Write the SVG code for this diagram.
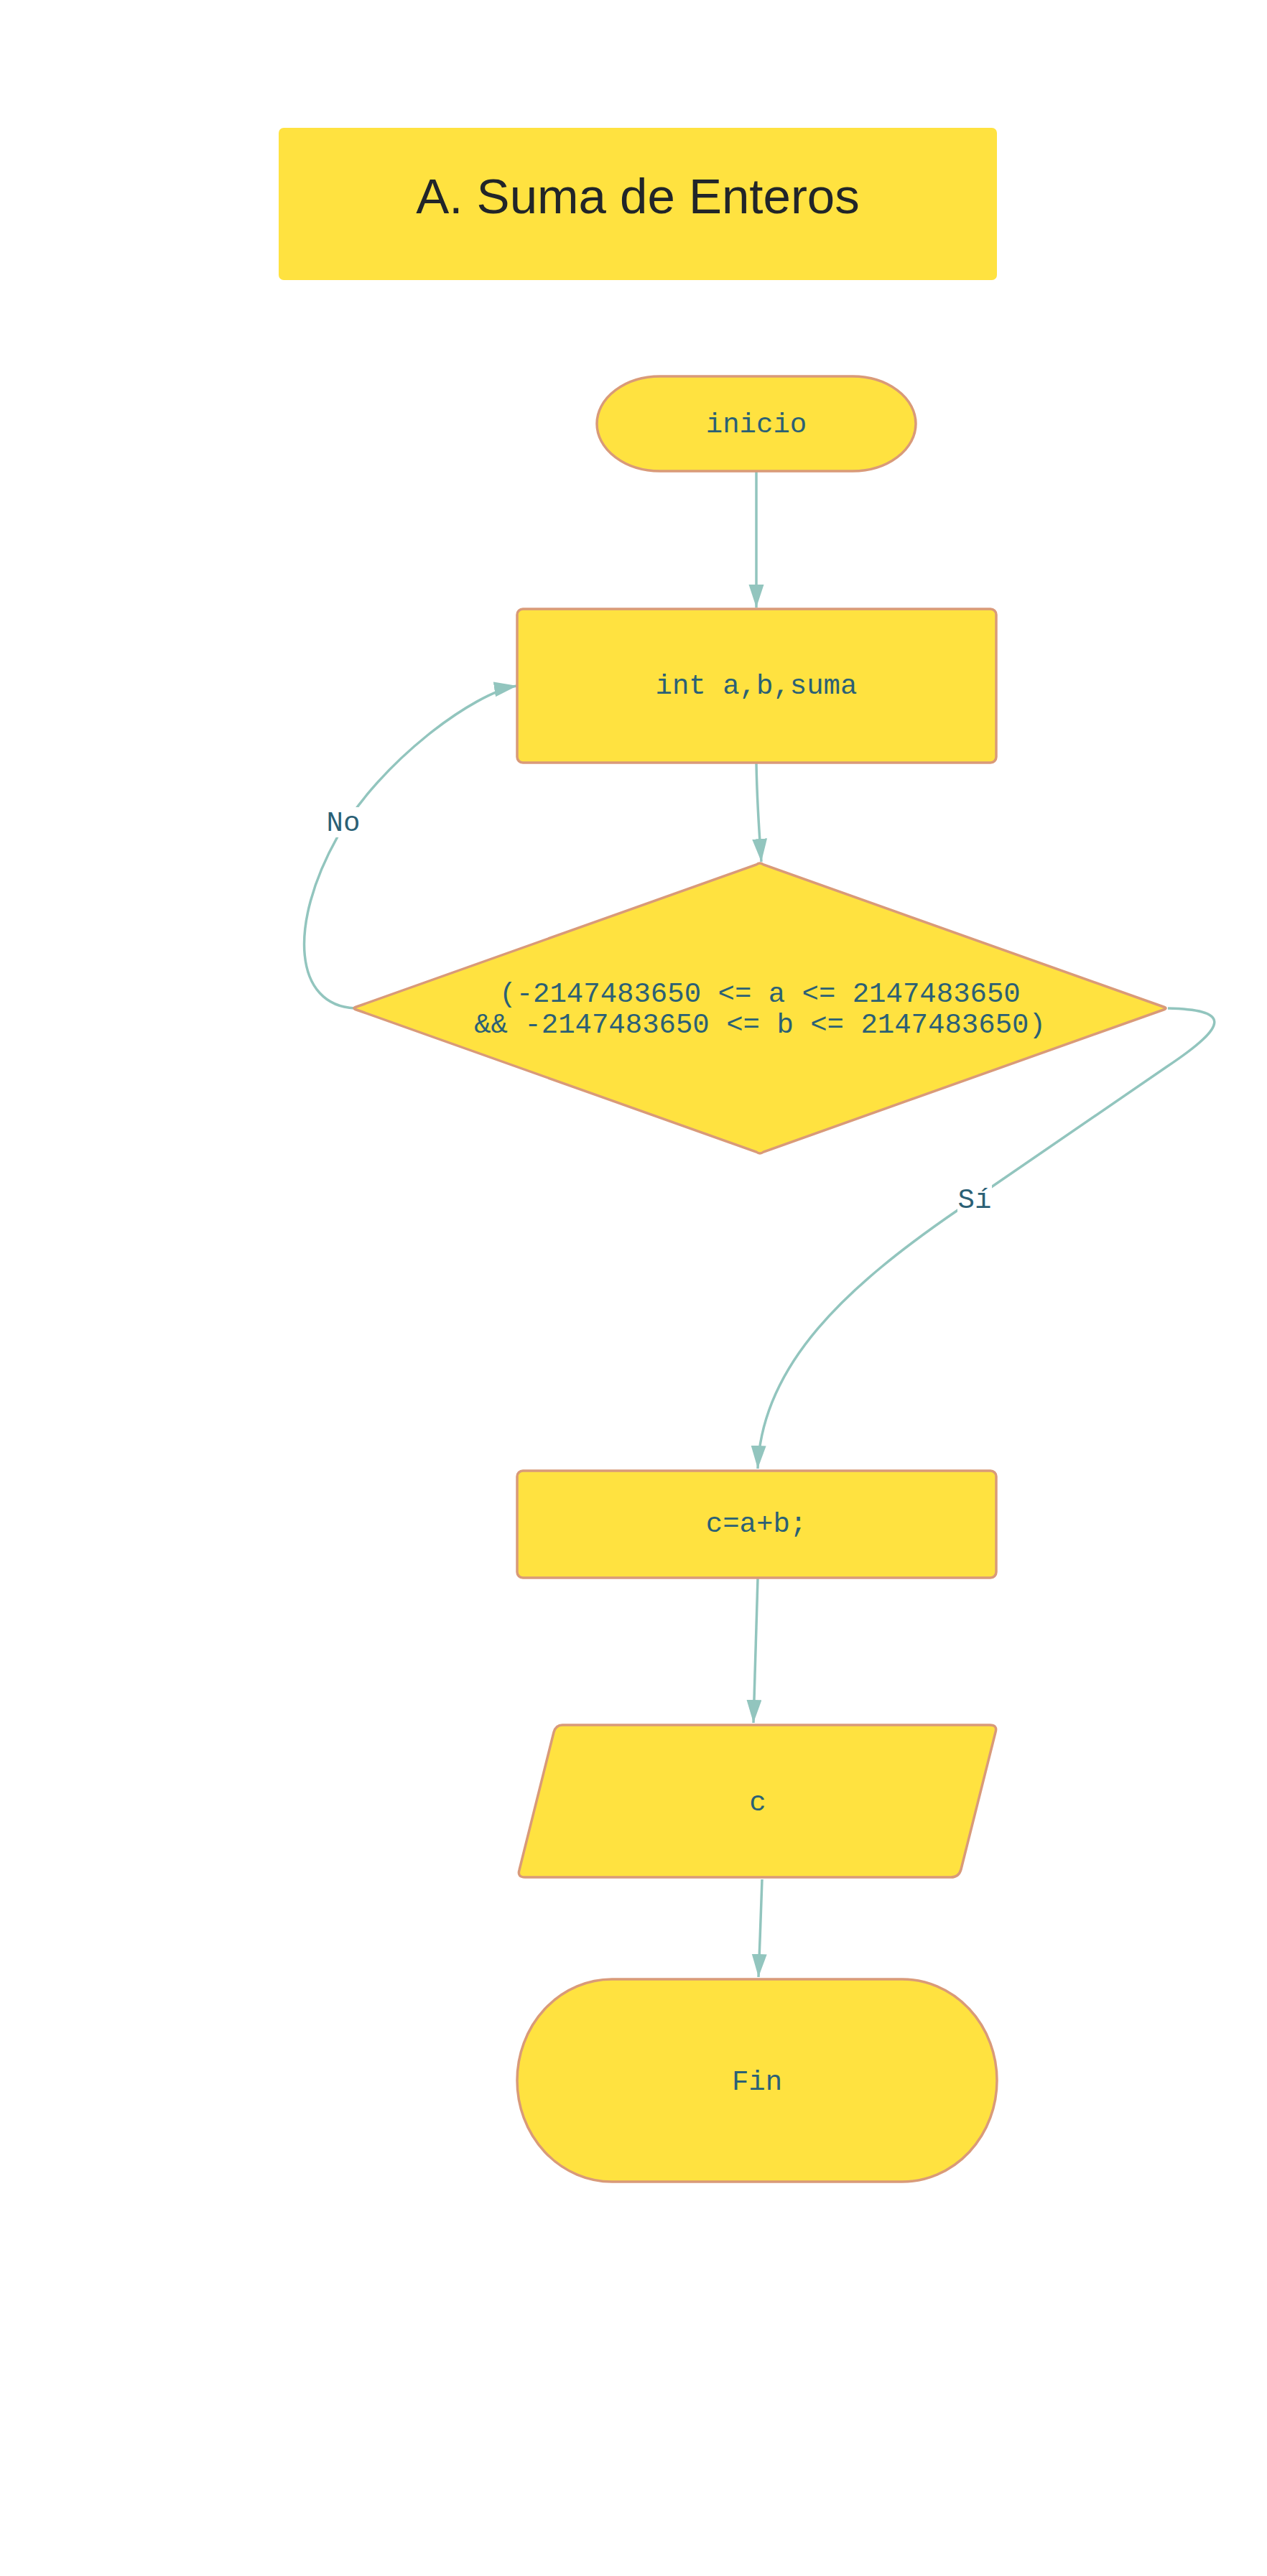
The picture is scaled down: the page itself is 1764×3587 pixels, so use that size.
<svg xmlns="http://www.w3.org/2000/svg" width="1764" height="3587" viewBox="0 0 1764 3587">
<style>
.node{fill:#FFE240;stroke:#D99A79;stroke-width:3.5}
.t{font-family:"Liberation Mono","DejaVu Sans Mono",monospace;font-size:39px;fill:#2B6075;text-anchor:middle}
.edge{fill:none;stroke:#92C5BE;stroke-width:3.5}
.lbg{fill:#FFFFFF}
</style>
<defs>
<marker id="arr" markerUnits="userSpaceOnUse" markerWidth="34" markerHeight="22" refX="32" refY="10.5" orient="auto">
<path d="M0,0 L32,10.5 L0,21 z" fill="#92C5BE"/>
</marker>
</defs>
<rect width="1764" height="3587" fill="#FFFFFF"/>
<g id="title">
<rect x="388" y="178" width="1000" height="212" rx="7" fill="#FFE240"/>
<text x="888" y="297" font-family="'Liberation Sans',Arial,sans-serif" font-size="69" fill="#212529" text-anchor="middle">A. Suma de Enteros</text>
</g>
<g id="connectors">
<path class="edge" d="M1053,657 L1053,846" marker-end="url(#arr)"/>
<path class="edge" d="M1053,1063 C1054,1120 1057,1160 1060,1200" marker-end="url(#arr)"/>
<path class="edge" d="M494,1404 C410,1400 400,1290 470,1165 C530,1060 660,964 720,955" marker-end="url(#arr)"/>
<path class="edge" d="M1626,1404 C1710,1406 1715,1425 1625,1485 L1335,1684 C1180,1790 1060,1900 1055,2045" marker-end="url(#arr)"/>
<path class="edge" d="M1055,2198 L1049,2399" marker-end="url(#arr)"/>
<path class="edge" d="M1061,2617 C1059,2680 1058,2700 1056,2753" marker-end="url(#arr)"/>
<rect class="lbg" x="455" y="1124" width="46" height="42"/>
<text class="t" x="478" y="1157">No</text>
<rect class="lbg" x="1333" y="1648" width="48" height="40"/>
<text class="t" x="1357" y="1682">Sí</text>
</g>
<g id="inicio">
<rect class="node" x="831" y="524" width="444" height="132" rx="88" ry="66"/>
<text class="t" x="1053" y="602">inicio</text>
</g>
<g id="declare">
<rect class="node" x="720" y="848" width="667" height="214" rx="8"/>
<text class="t" x="1053" y="966">int a,b,suma</text>
</g>
<g id="decision">
<path class="node" d="M1053,1204 Q1058,1200 1063,1204 L1620,1402 Q1626,1404 1620,1406 L1063,1604 Q1058,1608 1053,1604 L496,1406 Q490,1404 496,1402 Z"/>
<text class="t" x="1058" y="1395">(-2147483650 &lt;= a &lt;= 2147483650</text>
<text class="t" x="1058" y="1438">&amp;&amp; -2147483650 &lt;= b &lt;= 2147483650)</text>
</g>
<g id="suma">
<rect class="node" x="720" y="2048" width="667" height="149" rx="8"/>
<text class="t" x="1053" y="2133">c=a+b;</text>
</g>
<g id="output">
<path class="node" d="M783,2402 L1378,2402 Q1389,2402 1386,2412 L1338,2603 Q1335,2614 1324,2614 L731,2614 Q720,2614 723,2604 L771,2412 Q774,2402 783,2402 Z"/>
<text class="t" x="1055" y="2521">c</text>
</g>
<g id="fin">
<rect class="node" x="720" y="2756" width="668" height="282" rx="132" ry="141"/>
<text class="t" x="1054" y="2910">Fin</text>
</g>
</svg>
